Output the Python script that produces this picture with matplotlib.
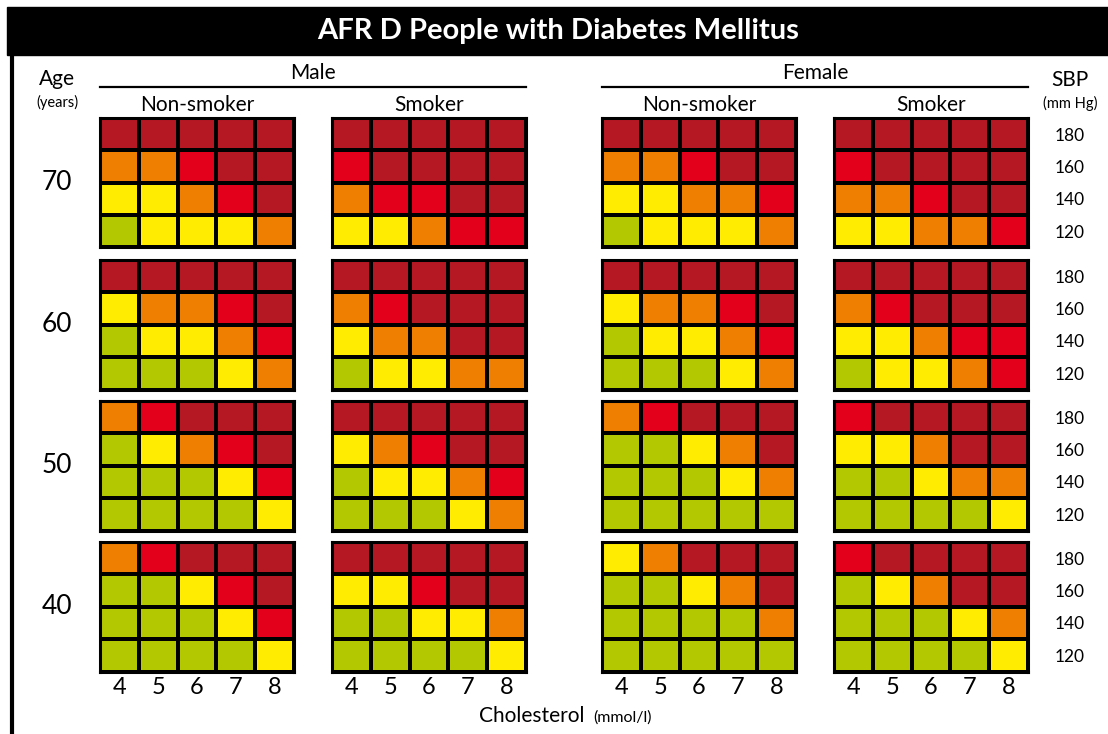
import numpy as np
import matplotlib
matplotlib.use("Agg")
import matplotlib.pyplot as plt
from matplotlib.colors import ListedColormap, BoundaryNorm
from matplotlib.lines import Line2D
from matplotlib.patches import Rectangle

plt.rcParams['font.family'] = ['Lato', 'DejaVu Sans']

# risk level 1..5 (green, yellow, orange, red, dark red)
# each grid: rows SBP 180,160,140,120 (top to bottom), columns cholesterol 4..8
ages = ["70", "60", "50", "40"]
sbp = ["180", "160", "140", "120"]
chol = ["4", "5", "6", "7", "8"]
groups = ["Male", "Female"]
smoking = ["Non-smoker", "Smoker"]

male_nonsmoker = [
    [[5, 5, 5, 5, 5], [3, 3, 4, 5, 5], [2, 2, 3, 4, 5], [1, 2, 2, 2, 3]],
    [[5, 5, 5, 5, 5], [2, 3, 3, 4, 5], [1, 2, 2, 3, 4], [1, 1, 1, 2, 3]],
    [[3, 4, 5, 5, 5], [1, 2, 3, 4, 5], [1, 1, 1, 2, 4], [1, 1, 1, 1, 2]],
    [[3, 4, 5, 5, 5], [1, 1, 2, 4, 5], [1, 1, 1, 2, 4], [1, 1, 1, 1, 2]],
]
male_smoker = [
    [[5, 5, 5, 5, 5], [4, 5, 5, 5, 5], [3, 4, 4, 5, 5], [2, 2, 3, 4, 4]],
    [[5, 5, 5, 5, 5], [3, 4, 5, 5, 5], [2, 3, 3, 5, 5], [1, 2, 2, 3, 3]],
    [[5, 5, 5, 5, 5], [2, 3, 4, 5, 5], [1, 2, 2, 3, 4], [1, 1, 1, 2, 3]],
    [[5, 5, 5, 5, 5], [2, 2, 4, 5, 5], [1, 1, 2, 2, 3], [1, 1, 1, 1, 2]],
]
female_nonsmoker = [
    [[5, 5, 5, 5, 5], [3, 3, 4, 5, 5], [2, 2, 3, 3, 4], [1, 2, 2, 2, 3]],
    [[5, 5, 5, 5, 5], [2, 3, 3, 4, 5], [1, 2, 2, 3, 4], [1, 1, 1, 2, 3]],
    [[3, 4, 5, 5, 5], [1, 1, 2, 3, 5], [1, 1, 1, 2, 3], [1, 1, 1, 1, 1]],
    [[2, 3, 5, 5, 5], [1, 1, 2, 3, 5], [1, 1, 1, 1, 3], [1, 1, 1, 1, 1]],
]
female_smoker = [
    [[5, 5, 5, 5, 5], [4, 5, 5, 5, 5], [3, 3, 4, 5, 5], [2, 2, 3, 3, 4]],
    [[5, 5, 5, 5, 5], [3, 4, 5, 5, 5], [2, 2, 3, 4, 4], [1, 2, 2, 3, 4]],
    [[4, 5, 5, 5, 5], [2, 2, 3, 5, 5], [1, 1, 2, 3, 3], [1, 1, 1, 1, 2]],
    [[4, 5, 5, 5, 5], [1, 2, 3, 5, 5], [1, 1, 1, 2, 3], [1, 1, 1, 1, 2]],
]
panels = [male_nonsmoker, male_smoker, female_nonsmoker, female_smoker]

risk_colors = ["#b3c800", "#ffec00", "#ef7f00", "#e2001a", "#b51823"]
cmap = ListedColormap(risk_colors)
norm = BoundaryNorm(np.arange(0.5, 6.5), cmap.N)

W, H = 1108, 734
fig = plt.figure(figsize=(W / 100, H / 100), dpi=100)

def fx(px):
    return px / W

def fy(py):
    return 1 - py / H

# layout in pixels
col_left = [100, 332, 602, 834]
grid_w = 194
row_top = [118, 260, 401, 542]
grid_h = 129.5

# title bar
fig.patches.append(Rectangle((fx(7), fy(55)), 1 - fx(7), fy(7) - fy(55),
                             transform=fig.transFigure, color="black", zorder=0))
fig.text(fx(558), fy(31), "AFR D People with Diabetes Mellitus", color="white",
         fontsize=21, fontweight="bold", ha="center", va="center")
# left rule
fig.add_artist(Line2D([fx(12), fx(12)], [fy(55), 0], color="black", lw=3,
                      transform=fig.transFigure))

for c, data in enumerate(panels):
    for r, grid in enumerate(data):
        ax = fig.add_axes([fx(col_left[c]), fy(row_top[r] + grid_h),
                           fx(grid_w), grid_h / H])
        vals = np.array(grid)[::-1]
        ax.pcolormesh(np.arange(len(chol) + 1), np.arange(len(sbp) + 1), vals,
                      cmap=cmap, norm=norm, edgecolors="black", linewidth=1.6)
        ax.set_xlim(0, len(chol))
        ax.set_ylim(0, len(sbp))
        for s in ax.spines.values():
            s.set_linewidth(2.2)
        ax.tick_params(length=0)
        ax.set_yticks([])
        if r == len(ages) - 1:
            ax.set_xticks(np.arange(len(chol)) + 0.5, chol, fontsize=17)
            ax.tick_params(axis="x", pad=4)
        else:
            ax.set_xticks([])
        if c == len(panels) - 1:
            ax.yaxis.tick_right()
            ax.set_yticks(np.arange(len(sbp)) + 0.5, sbp[::-1], fontsize=12.5)
            ax.tick_params(axis="y", pad=30)
            for t in ax.get_yticklabels():
                t.set_ha("center")

# age labels
for r, a in enumerate(ages):
    fig.text(fx(57), fy(row_top[r] + grid_h / 2), a, fontsize=19,
             ha="center", va="center")
fig.text(fx(57), fy(79), "Age", fontsize=15, ha="center", va="center")
fig.text(fx(57), fy(102), "(years)", fontsize=10.5, ha="center", va="center")
fig.text(fx(1070), fy(80), "SBP", fontsize=15, ha="center", va="center")
fig.text(fx(1070), fy(103), "(mm Hg)", fontsize=10.5, ha="center", va="center")

# sex and smoking headers
for g, name in enumerate(groups):
    x0 = col_left[2 * g]
    x1 = col_left[2 * g + 1] + grid_w
    fig.text(fx((x0 + x1) / 2), fy(73), name, fontsize=15, ha="center", va="center")
    fig.add_artist(Line2D([fx(x0), fx(x1)], [fy(87), fy(87)], color="black",
                          lw=1.6, transform=fig.transFigure))
for c in range(len(panels)):
    fig.text(fx(col_left[c] + grid_w / 2), fy(105), smoking[c % 2], fontsize=15,
             ha="center", va="center")

# x-axis label
fig.text(fx(532), fy(716), "Cholesterol", fontsize=15, ha="center", va="center")
fig.text(fx(622), fy(718), "(mmol/l)", fontsize=11.5, ha="center", va="center")

fig.savefig("out.png", dpi=100, facecolor="white")
